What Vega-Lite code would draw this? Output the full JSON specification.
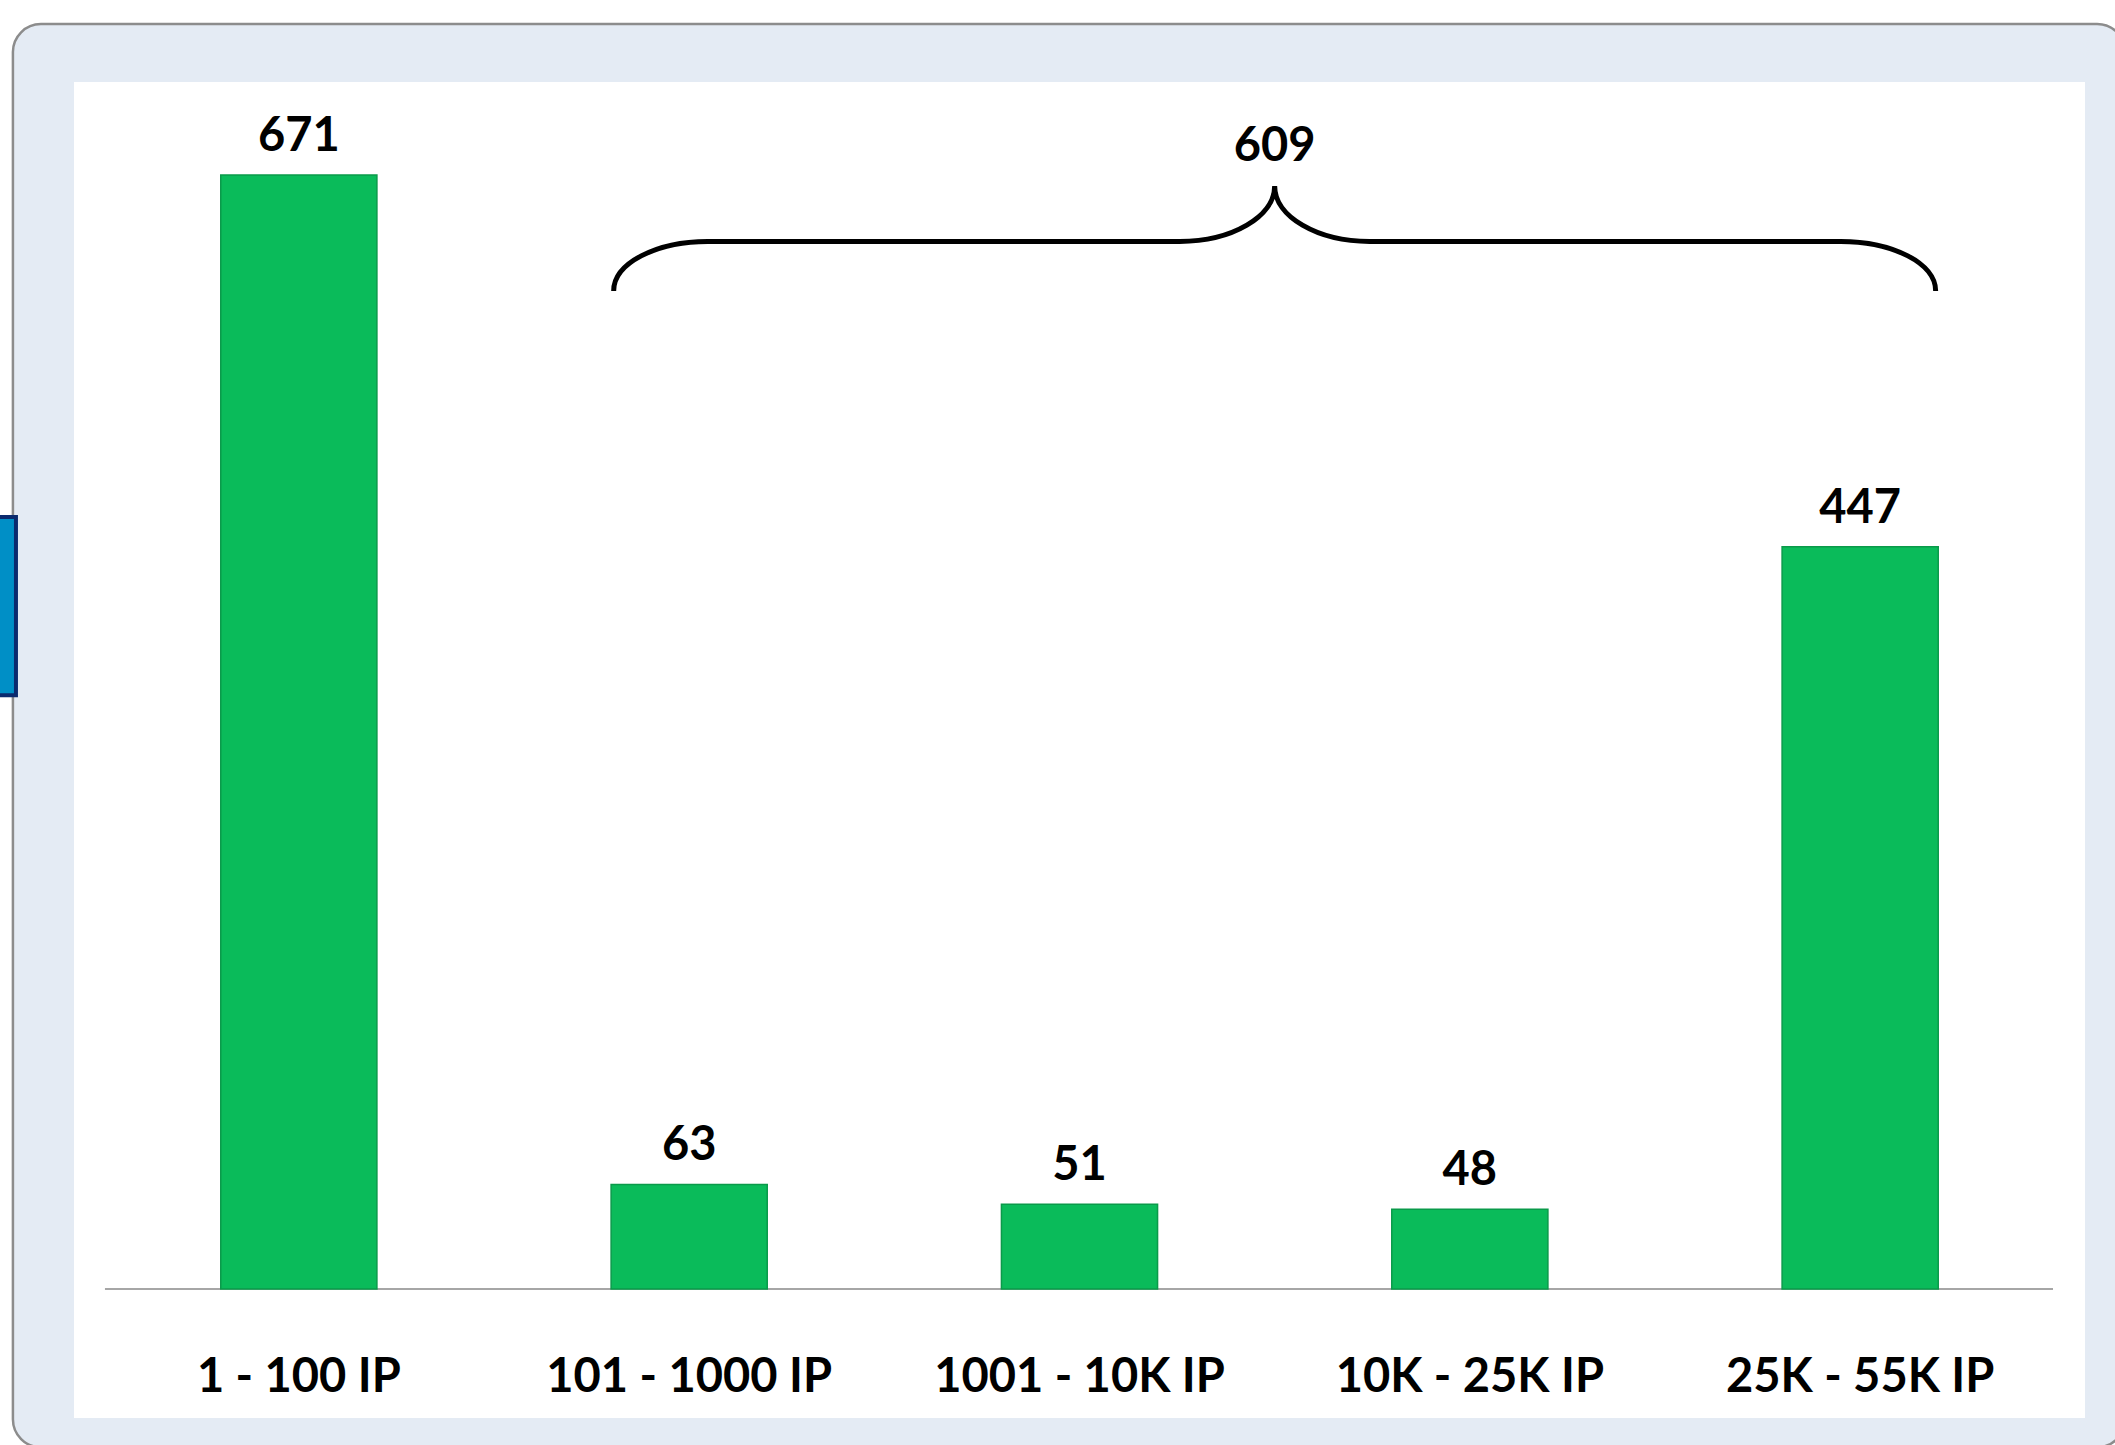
{
  "$schema": "https://vega.github.io/schema/vega-lite/v6.json",
  "width": 2011,
  "height": 1336,
  "autosize": {"type": "none"},
  "padding": {"left": 74, "top": 82, "right": 30, "bottom": 27},
  "background": "#FFFFFF",
  "config": {"view": {"stroke": null}, "font": "Lato", "axis": {"disable": true}},
  "resolve": {"scale": {"x": "independent"}},
  "layer": [
    {
      "data": {"values": [{"note": "609"}]},
      "layer": [
        {
          "mark": {"type": "rect", "fill": "#E4EBF4", "stroke": "#8C8C8C", "strokeWidth": 2.5, "cornerRadius": 28},
          "encoding": {
            "x": {"datum": -0.7325, "type": "quantitative", "scale": {"domain": [-0.576, 4.576], "nice": false, "zero": false}, "axis": null},
            "x2": {"datum": 4.679},
            "y": {"datum": 761.9, "type": "quantitative", "scale": {"domain": [-77.7, 727], "nice": false, "zero": false}, "axis": null},
            "y2": {"datum": -95.3}
          }
        },
        {
          "mark": {"type": "rect", "fill": "#FFFFFF"},
          "encoding": {
            "x": {"datum": -0.576, "type": "quantitative"},
            "x2": {"datum": 4.576},
            "y": {"datum": 727, "type": "quantitative"},
            "y2": {"datum": -77.7}
          }
        },
        {
          "mark": {"type": "rect", "fill": "#008FC6", "stroke": "#0B2A6E", "strokeWidth": 4},
          "encoding": {
            "x": {"datum": -0.85, "type": "quantitative"},
            "x2": {"datum": -0.7247},
            "y": {"datum": 465, "type": "quantitative"},
            "y2": {"datum": 357.7}
          }
        },
        {
          "mark": {"type": "rule", "stroke": "#A6A6A6", "strokeWidth": 2},
          "encoding": {
            "x": {"datum": -0.4967, "type": "quantitative"},
            "x2": {"datum": 4.494},
            "y": {"datum": 0, "type": "quantitative"}
          }
        },
        {
          "mark": {
            "type": "point",
            "shape": "M -6.61 0.495 A 0.94 0.495 0 0 1 -5.67 0 L -0.95 0 A 0.95 0.555 0 0 0 0 -0.555 A 0.95 0.555 0 0 0 0.95 0 L 5.66 0 A 0.95 0.495 0 0 1 6.61 0.495",
            "size": 40000,
            "filled": false,
            "stroke": "#000000",
            "strokeWidth": 5,
            "opacity": 1
          },
          "encoding": {
            "x": {"datum": 2.5, "type": "quantitative"},
            "y": {"datum": 631, "type": "quantitative"}
          }
        },
        {
          "mark": {"type": "text", "fontSize": 47, "fontWeight": "bold", "baseline": "middle", "align": "center", "color": "#000000"},
          "encoding": {
            "x": {"datum": 2.5, "type": "quantitative"},
            "y": {"datum": 687.9, "type": "quantitative"},
            "text": {"field": "note"}
          }
        }
      ]
    },
    {
      "data": {
        "values": [
          {"category": "1 - 100 IP", "value": 671},
          {"category": "101 - 1000 IP", "value": 63},
          {"category": "1001 - 10K IP", "value": 51},
          {"category": "10K - 25K IP", "value": 48},
          {"category": "25K - 55K IP", "value": 447}
        ]
      },
      "layer": [
        {
          "mark": {"type": "bar", "fill": "#0ABB5A", "stroke": "#0A9A4A", "strokeWidth": 1.5},
          "encoding": {
            "x": {
              "field": "category", "type": "nominal", "sort": null, "axis": null,
              "scale": {"domain": ["1 - 100 IP", "101 - 1000 IP", "1001 - 10K IP", "10K - 25K IP", "25K - 55K IP"], "paddingInner": 0.6, "paddingOuter": 0.376}
            },
            "y": {"field": "value", "type": "quantitative", "axis": null, "scale": {"domain": [-77.7, 727], "nice": false, "zero": false}}
          }
        },
        {
          "mark": {"type": "text", "fontSize": 47, "fontWeight": "bold", "baseline": "middle", "align": "center", "dy": -38, "color": "#000000"},
          "encoding": {
            "x": {"field": "category", "type": "nominal", "sort": null},
            "y": {"field": "value", "type": "quantitative"},
            "text": {"field": "value", "type": "quantitative"}
          }
        },
        {
          "mark": {"type": "text", "fontSize": 47, "fontWeight": "bold", "baseline": "middle", "align": "center", "color": "#000000"},
          "encoding": {
            "x": {"field": "category", "type": "nominal", "sort": null},
            "y": {"datum": -53.7, "type": "quantitative"},
            "text": {"field": "category"}
          }
        }
      ]
    }
  ]
}
